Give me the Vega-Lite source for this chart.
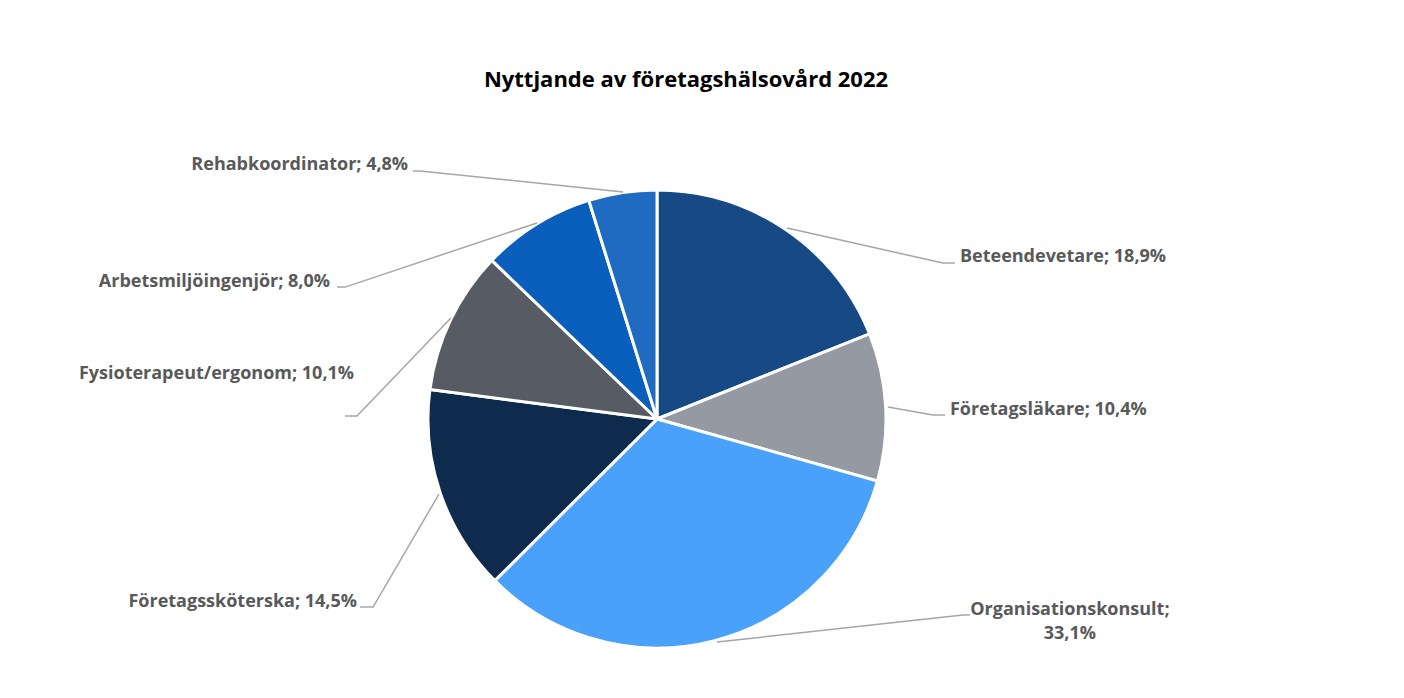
{
  "$schema": "https://vega.github.io/schema/vega-lite/v6.json",
  "autosize": {"type": "none"},
  "width": 1314,
  "height": 558,
  "padding": {"left": 0, "top": 140, "right": 90, "bottom": 0},
  "background": "white",
  "config": {"view": {"stroke": null}},
  "title": {
    "text": "Nyttjande av företagshälsovård 2022",
    "font": "Open Sans",
    "fontSize": 22,
    "fontWeight": "bold",
    "color": "#000000",
    "offset": 48,
    "dx": 29
  },
  "datasets": {
    "slices": [
      {"yrke": "Beteendevetare", "andel": 18.9, "ordning": 1},
      {"yrke": "Företagsläkare", "andel": 10.4, "ordning": 2},
      {"yrke": "Organisationskonsult", "andel": 33.1, "ordning": 3},
      {"yrke": "Företagssköterska", "andel": 14.5, "ordning": 4},
      {"yrke": "Fysioterapeut/ergonom", "andel": 10.1, "ordning": 5},
      {"yrke": "Arbetsmiljöingenjör", "andel": 8.0, "ordning": 6},
      {"yrke": "Rehabkoordinator", "andel": 4.8, "ordning": 7}
    ],
    "leaders": [
      {"yrke": "Rehabkoordinator", "p": 1, "u": -14.8, "v": 99.1},
      {"yrke": "Rehabkoordinator", "p": 2, "u": -103.5, "v": 108.3},
      {"yrke": "Rehabkoordinator", "p": 3, "u": -106.6, "v": 108.3},
      {"yrke": "Arbetsmiljöingenjör", "p": 1, "u": -52.4, "v": 85.6},
      {"yrke": "Arbetsmiljöingenjör", "p": 2, "u": -136.2, "v": 57.6},
      {"yrke": "Arbetsmiljöingenjör", "p": 3, "u": -139.7, "v": 57.6},
      {"yrke": "Fysioterapeut/ergonom", "p": 1, "u": -90.0, "v": 44.1},
      {"yrke": "Fysioterapeut/ergonom", "p": 2, "u": -131.0, "v": 1.3},
      {"yrke": "Fysioterapeut/ergonom", "p": 3, "u": -136.2, "v": 1.3},
      {"yrke": "Företagssköterska", "p": 1, "u": -95.2, "v": -32.8},
      {"yrke": "Företagssköterska", "p": 2, "u": -124.0, "v": -82.1},
      {"yrke": "Företagssköterska", "p": 3, "u": -129.7, "v": -82.1},
      {"yrke": "Organisationskonsult", "p": 1, "u": 26.2, "v": -97.4},
      {"yrke": "Organisationskonsult", "p": 2, "u": 133.6, "v": -85.6},
      {"yrke": "Organisationskonsult", "p": 3, "u": 136.7, "v": -85.6},
      {"yrke": "Företagsläkare", "p": 1, "u": 100.9, "v": 5.2},
      {"yrke": "Företagsläkare", "p": 2, "u": 120.5, "v": 1.7},
      {"yrke": "Företagsläkare", "p": 3, "u": 125.8, "v": 1.7},
      {"yrke": "Beteendevetare", "p": 1, "u": 56.8, "v": 83.4},
      {"yrke": "Beteendevetare", "p": 2, "u": 124.9, "v": 68.1},
      {"yrke": "Beteendevetare", "p": 3, "u": 130.1, "v": 68.1}
    ],
    "labels": [
      {"etikett": "Rehabkoordinator; 4,8%", "u": -108.7, "v": 110.9, "sida": "right"},
      {"etikett": "Arbetsmiljöingenjör; 8,0%", "u": -142.8, "v": 59.8, "sida": "right"},
      {"etikett": "Fysioterapeut/ergonom; 10,1%", "u": -132.3, "v": 19.7, "sida": "right"},
      {"etikett": "Företagssköterska; 14,5%", "u": -131.0, "v": -79.9, "sida": "right"},
      {"etikett": "Organisationskonsult;\n33,1%", "u": 180.3, "v": -83.4, "sida": "center"},
      {"etikett": "Företagsläkare; 10,4%", "u": 127.9, "v": 3.9, "sida": "left"},
      {"etikett": "Beteendevetare; 18,9%", "u": 132.3, "v": 70.7, "sida": "left"}
    ]
  },
  "layer": [
    {
      "data": {"name": "slices"},
      "mark": {"type": "arc", "outerRadius": 229, "stroke": "white", "strokeWidth": 3},
      "encoding": {
        "theta": {"field": "andel", "type": "quantitative", "stack": true},
        "order": {"field": "ordning", "type": "quantitative"},
        "color": {
          "field": "yrke",
          "type": "nominal",
          "legend": null,
          "scale": {
            "domain": ["Beteendevetare", "Företagsläkare", "Organisationskonsult", "Företagssköterska", "Fysioterapeut/ergonom", "Arbetsmiljöingenjör", "Rehabkoordinator"],
            "range": ["#174a84", "#9599a1", "#4aa1f9", "#0e2b4e", "#575b63", "#0a5fbc", "#1f6bc2"]
          }
        }
      }
    },
    {
      "data": {"name": "leaders"},
      "mark": {"type": "line", "color": "#a6a6a6", "strokeWidth": 1.5},
      "encoding": {
        "x": {"field": "u", "type": "quantitative", "axis": null, "scale": {"domain": [-286.9, 286.9], "nice": false, "zero": false}},
        "y": {"field": "v", "type": "quantitative", "axis": null, "scale": {"domain": [-121.83, 121.83], "nice": false, "zero": false}},
        "detail": {"field": "yrke", "type": "nominal"},
        "order": {"field": "p", "type": "quantitative"}
      }
    },
    {
      "data": {"name": "labels"},
      "transform": [{"filter": "datum.sida === 'right'"}],
      "mark": {"type": "text", "align": "right", "baseline": "middle", "font": "Open Sans", "fontSize": 18, "fontWeight": "bold", "color": "#595959"},
      "encoding": {
        "x": {"field": "u", "type": "quantitative"},
        "y": {"field": "v", "type": "quantitative"},
        "text": {"field": "etikett"}
      }
    },
    {
      "data": {"name": "labels"},
      "transform": [{"filter": "datum.sida === 'left'"}],
      "mark": {"type": "text", "align": "left", "baseline": "middle", "font": "Open Sans", "fontSize": 18, "fontWeight": "bold", "color": "#595959"},
      "encoding": {
        "x": {"field": "u", "type": "quantitative"},
        "y": {"field": "v", "type": "quantitative"},
        "text": {"field": "etikett"}
      }
    },
    {
      "data": {"name": "labels"},
      "transform": [{"filter": "datum.sida === 'center'"}],
      "mark": {"type": "text", "align": "center", "baseline": "middle", "font": "Open Sans", "fontSize": 18, "fontWeight": "bold", "color": "#595959", "lineBreak": "\n", "lineHeight": 24},
      "encoding": {
        "x": {"field": "u", "type": "quantitative"},
        "y": {"field": "v", "type": "quantitative"},
        "text": {"field": "etikett"}
      }
    }
  ]
}
